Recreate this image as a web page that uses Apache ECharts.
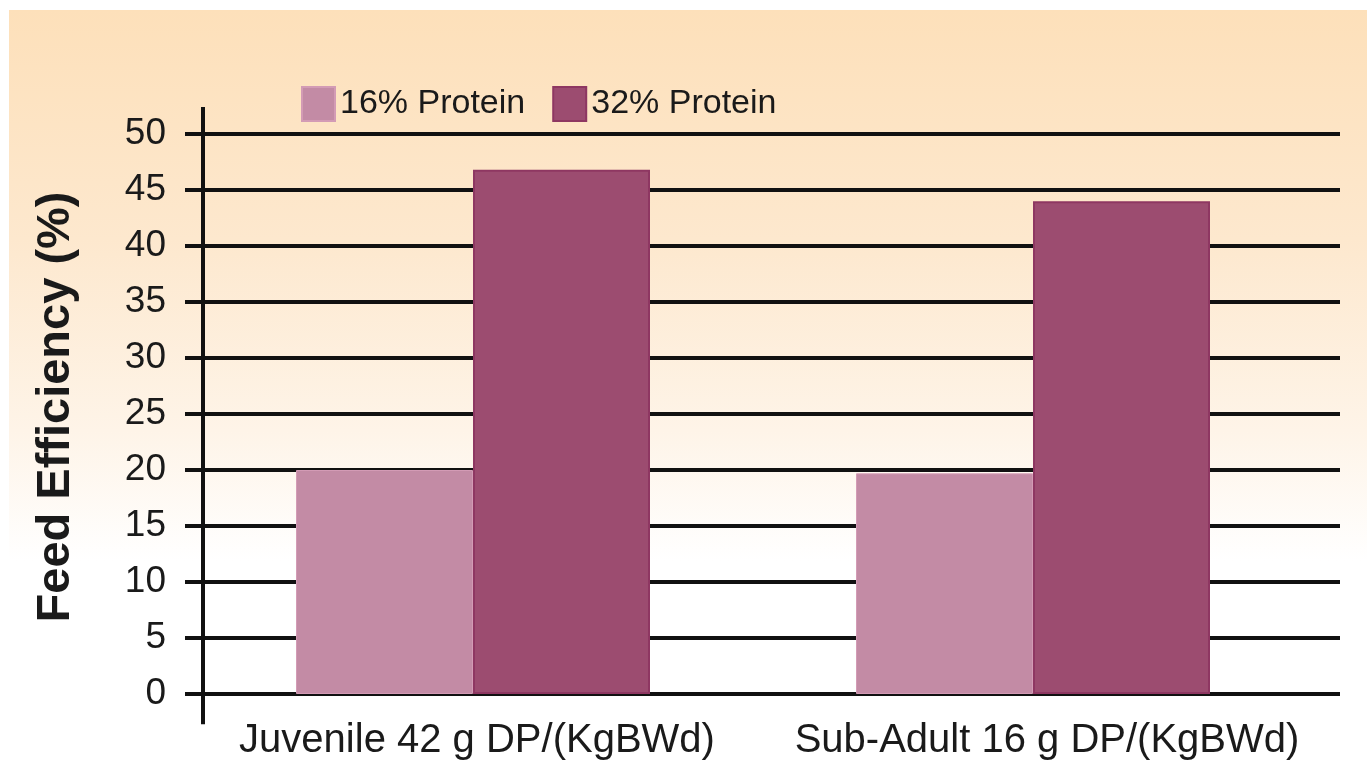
<!DOCTYPE html>
<html>
<head>
<meta charset="utf-8">
<script src="https://cdn.jsdelivr.net/npm/echarts@6/dist/echarts.min.js"></script>
<style>
html,body{margin:0;padding:0;background:#fff;}
#chart{width:1367px;height:765px;}
</style>
</head>
<body>
<div id="chart"></div>
<script>
const categories = ['Juvenile 42 g DP/(KgBWd)', 'Sub-Adult 16 g DP/(KgBWd)'];
const seriesNames = ['16% Protein', '32% Protein'];
const protein16 = [20.0, 19.7];
const protein32 = [46.8, 44.0];
const yTicks = { min: 0, max: 50, interval: 5 };

const chart = echarts.init(document.getElementById('chart'), null, { renderer: 'canvas' });
const font = '"Liberation Sans", Arial, sans-serif';
const gridTop = 134, gridBottom = 765 - 694;
const labelStyle = { fontFamily: font, fontSize: 40, color: '#1a1a1a' };

const option = {
  animation: false,
  backgroundColor: '#ffffff',
  legend: {
    left: 296, top: 81,
    icon: 'rect',
    itemWidth: 33, itemHeight: 34, itemGap: 27,
    textStyle: { fontFamily: font, fontSize: 34, color: '#1a1a1a', padding: [0, 0, 0, 0] },
    data: seriesNames
  },
  grid: [
    { left: 203, right: 1367 - 1340, top: gridTop, bottom: gridBottom },
    { left: 193, right: 1367 - 1313, top: gridTop, bottom: gridBottom }
  ],
  xAxis: [
    { gridIndex: 0, type: 'category', data: categories, show: false },
    {
      gridIndex: 1, type: 'category', data: categories,
      axisLine: { show: false }, axisTick: { show: false },
      axisLabel: {
        interval: 0, margin: 27, ...labelStyle,
        formatter: (v, i) => (i === 1 ? '{b|' + v + '}' : '{a|' + v + '}'),
        rich: {
          a: { ...labelStyle, padding: [0, 0, 0, 8] },
          b: { ...labelStyle, padding: [0, 0, 0, 28] }
        }
      }
    }
  ],
  yAxis: [
    {
      gridIndex: 0, type: 'value', min: yTicks.min, max: yTicks.max, interval: yTicks.interval,
      name: 'Feed Efficiency (%)', nameLocation: 'middle', nameGap: 123,
      nameTextStyle: { fontFamily: font, fontSize: 47, fontWeight: 'bold', color: '#1a1a1a', padding: [0, 0, 0, 14] },
      axisLine: { show: false },
      axisTick: { show: true, length: 18, lineStyle: { color: '#111', width: 4 } },
      axisLabel: { fontFamily: font, fontSize: 37, color: '#1a1a1a', margin: 37 },
      splitLine: { show: true, lineStyle: { color: '#111', width: 4 } }
    },
    {
      gridIndex: 1, type: 'value', min: yTicks.min, max: yTicks.max, interval: yTicks.interval,
      show: false, splitLine: { show: false }
    }
  ],
  series: [
    {
      name: seriesNames[0], type: 'bar', xAxisIndex: 1, yAxisIndex: 1,
      data: protein16, barWidth: 177, barGap: '0%', z: 5,
      itemStyle: { color: '#C38BA5', borderColor: '#D39BB5', borderWidth: 1 }
    },
    {
      name: seriesNames[1], type: 'bar', xAxisIndex: 1, yAxisIndex: 1,
      data: protein32, barWidth: 177, barGap: '0%', z: 5,
      itemStyle: { color: '#9C4C70', borderColor: '#8E3762', borderWidth: 2 }
    }
  ]
};
chart.setOption(option);

// background panel with gradient and extended vertical axis line
const yTopPx = chart.convertToPixel({ yAxisIndex: 0 }, 52.4);
const yBotPx = chart.convertToPixel({ yAxisIndex: 0 }, -2.7);
const gridLeftPx = 203;
chart.setOption({
  graphic: [
    {
      type: 'rect', z: -10, silent: true,
      shape: { x: 9, y: 10, width: 1367, height: 765 },
      style: {
        fill: new echarts.graphic.LinearGradient(0, 0, 0, 1, [
          { offset: 0, color: '#FDE0BA' },
          { offset: 0.3, color: '#FDE8CE' },
          { offset: 0.55, color: '#FEF4E8' },
          { offset: 0.72, color: '#FFFFFF' },
          { offset: 1, color: '#FFFFFF' }
        ])
      }
    },
    {
      type: 'line', z: 10, silent: true,
      shape: { x1: gridLeftPx, y1: yTopPx, x2: gridLeftPx, y2: yBotPx },
      style: { stroke: '#111', lineWidth: 4 }
    }
  ]
});
</script>
</body>
</html>
